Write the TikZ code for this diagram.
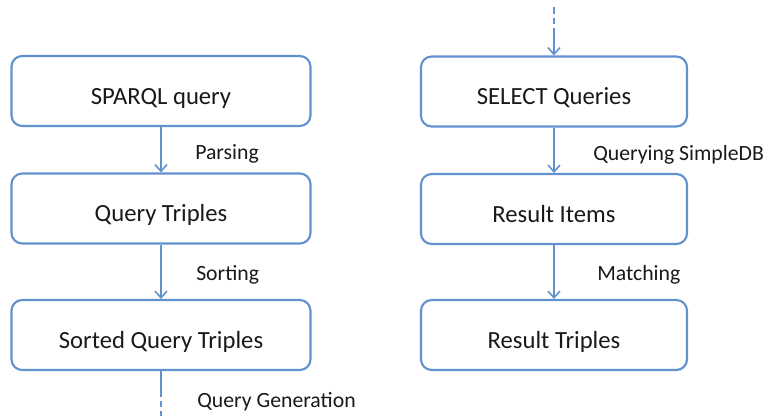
\documentclass[tikz,border=0pt]{standalone}
\usepackage{fontspec}
\setmainfont{Carlito}
\usetikzlibrary{arrows.meta}
\definecolor{boxblue}{RGB}{98,146,206}
\definecolor{txt}{RGB}{25,25,25}
\tikzset{
  stepbox/.style={draw=boxblue, line width=1.6pt, rounded corners=8pt, fill=white,
    minimum height=52.5pt, inner sep=0pt, font=\fontsize{18.5}{22}\selectfont, text=txt,
    text height=19.5pt, text depth=0pt},
  leftbox/.style={stepbox, minimum width=224.25pt},
  rightbox/.style={stepbox, minimum width=199.5pt},
  conn/.style={draw=boxblue, line width=1.2pt},
  arr/.style={conn, -{Straight Barb[length=5pt,width=9pt,line width=1.2pt]}},
  lbl/.style={anchor=west, inner sep=0pt, font=\fontsize{16.3}{19}\selectfont, text=txt},
}
\begin{document}
\begin{tikzpicture}[x=0.75pt, y=-0.75pt]
\useasboundingbox (0,0) rectangle (769,418);
% left column
\node[leftbox] (q1) at (161,91) {SPARQL query};
\node[leftbox] (q2) at (161,208.5) {Query Triples};
\node[leftbox] (q3) at (161,335) {Sorted Query Triples};
% right column
\node[rightbox] (s1) at (554,91.5) {SELECT Queries};
\node[rightbox] (s2) at (554,209) {Result Items};
\node[rightbox] (s3) at (554,335) {Result Triples};
% connectors
\draw[arr] (q1.south) -- (q2.north);
\draw[arr] (q2.south) -- (q3.north);
\draw[arr] (s1.south) -- (s2.north);
\draw[arr] (s2.south) -- (s3.north);
\coordinate (gmid) at (161,392);
\coordinate (gend) at (161,418);
\draw[conn] (q3.south) -- (gmid);
\draw[conn, dash pattern=on 4pt off 3pt] (gmid) -- (gend);
\coordinate (tstart) at (554,7);
\coordinate (tmid) at (554,30);
\draw[conn, dash pattern=on 5pt off 3pt] (tstart) -- (tmid);
\draw[arr] (tmid) -- (s1.north);
% labels
\node[lbl] (lparse) at (195,154) {Parsing};
\node[lbl] (lsort) at (196,275) {Sorting};
\node[lbl] (lgen) at (197,402) {Query Generation};
\node[lbl] (lquery) at (593,155) {Querying SimpleDB};
\node[lbl] (lmatch) at (597,275) {Matching};
\end{tikzpicture}
\end{document}
